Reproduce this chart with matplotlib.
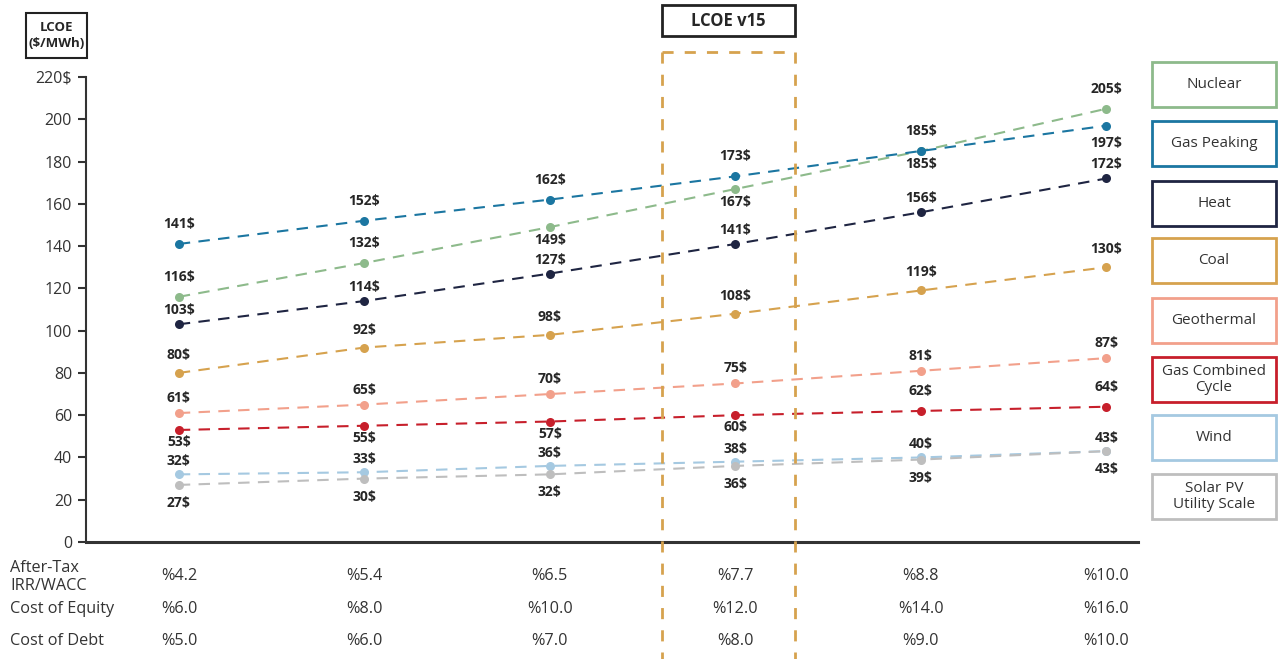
import matplotlib
matplotlib.use("Agg")
import matplotlib.pyplot as plt
from matplotlib.patches import Rectangle
from matplotlib.lines import Line2D

plt.rcParams['font.family'] = ['Open Sans', 'DejaVu Sans']
BOLD = dict(fontweight="bold", fontstretch="normal",
            family=['Open Sans', 'DejaVu Sans'])

# LCOE ($/MWh) per technology across the six financing scenarios
series_names = ["Nuclear", "Gas Peaking", "Heat", "Coal", "Geothermal",
                "Gas Combined\nCycle", "Wind", "Solar PV\nUtility Scale"]
nuclear = [116, 132, 149, 167, 185, 205]
gas_peaking = [141, 152, 162, 173, 185, 197]
heat = [103, 114, 127, 141, 156, 172]
coal = [80, 92, 98, 108, 119, 130]
geothermal = [61, 65, 70, 75, 81, 87]
gas_combined = [53, 55, 57, 60, 62, 64]
wind = [32, 33, 36, 38, 40, 43]
solar = [27, 30, 32, 36, 39, 43]

irr_wacc = ["%4.2", "%5.4", "%6.5", "%7.7", "%8.8", "%10.0"]
cost_equity = ["%6.0", "%8.0", "%10.0", "%12.0", "%14.0", "%16.0"]
cost_debt = ["%5.0", "%6.0", "%7.0", "%8.0", "%9.0", "%10.0"]
row_labels = ["After-Tax\nIRR/WACC", "Cost of Equity", "Cost of Debt"]

y_ticks = [0, 20, 40, 60, 80, 100, 120, 140, 160, 180, 200, 220]

colors = ["#8DBA8B", "#1B76A1", "#1F2542", "#D6A24E", "#F2A08B",
          "#C71F2B", "#A5C9E1", "#BEBEBE"]
values = [nuclear, gas_peaking, heat, coal, geothermal, gas_combined, wind, solar]

# label side per point: +1 above, -1 below; and offset (pixels)
sides = [
    [1, 1, -1, -1, -1, 1],
    [1, 1, 1, 1, 1, -1],
    [1, 1, 1, 1, 1, 1],
    [1, 1, 1, 1, 1, 1],
    [1, 1, 1, 1, 1, 1],
    [-1, -1, -1, -1, 1, 1],
    [1, 1, 1, 1, 1, 1],
    [-1, -1, -1, -1, -1, -1],
]
gap_up = [20, 20, 14, 18, 15, 20, 13, 13]
gap_dn = [13, 17, 13, 13, 13, 12, 13, 18]

W, H = 1280, 659
fig = plt.figure(figsize=(W / 100, H / 100), dpi=100)
fig.patch.set_facecolor("white")


def fx(px):
    return px / W


def fy(py):
    return 1 - py / H


ax = fig.add_axes([fx(86), fy(542), fx(1138) - fx(86), fy(77) - fy(542)])
ax.set_xlim(-0.5, 5.17)
ax.set_ylim(0, 220)
x = list(range(6))

text_col = "#262626"
for vals, col, sd, gu, gd in zip(values, colors, sides, gap_up, gap_dn):
    ax.plot(x, vals, color=col, lw=1.5, ls=(0, (5.5, 4)), marker="o",
            markersize=6.5, markeredgewidth=0, zorder=3)
    for xi, v, s in zip(x, vals, sd):
        off = gu if s > 0 else -gd
        ax.annotate(f"{v}$", (xi, v), xytext=(0, off * 0.72),
                    textcoords="offset points", ha="center", va="center",
                    fontsize=10, color=text_col, zorder=4, **BOLD)

ax.set_yticks(y_ticks)
ax.set_yticklabels([str(t) if t != 220 else "220$" for t in y_ticks],
                   fontsize=11.5, color="#333333")
ax.set_xticks([])
for side in ["top", "right"]:
    ax.spines[side].set_visible(False)
ax.spines["left"].set_color("#333333")
ax.spines["left"].set_linewidth(1.5)
ax.spines["bottom"].set_color("#333333")
ax.spines["bottom"].set_linewidth(2.2)
ax.tick_params(axis="y", length=6, width=1.5, color="#333333", pad=4)

# bottom table of financing assumptions
xpix = [179 + i * 185.4 for i in range(6)]
row_y = [576, 609, 641]
tfs = 11.7
for row, ry in zip([irr_wacc, cost_equity, cost_debt], row_y):
    for xp, t in zip(xpix, row):
        fig.text(fx(xp), fy(ry), t, ha="center", va="center",
                 fontsize=tfs, color="#333333")
fig.text(fx(10), fy(577), row_labels[0], ha="left", va="center",
         fontsize=tfs, color="#333333", linespacing=1.15)
fig.text(fx(10), fy(609), row_labels[1], ha="left", va="center",
         fontsize=tfs, color="#333333")
fig.text(fx(10), fy(641), row_labels[2], ha="left", va="center",
         fontsize=tfs, color="#333333")

# y-axis title box
fig.patches.append(Rectangle((fx(26), fy(58)), fx(87) - fx(26), fy(13) - fy(58),
                             transform=fig.transFigure, fill=False,
                             edgecolor="#222222", lw=1.5))
fig.text(fx(56.5), fy(35.5), "LCOE\n($/MWh)", ha="center", va="center",
         fontsize=9.5, color=text_col, linespacing=1.3, **BOLD)

# highlighted scenario column
hl = "#D6A24E"
for xs in [662, 795]:
    fig.add_artist(Line2D([fx(xs), fx(xs)], [fy(52), fy(659)],
                          transform=fig.transFigure, color=hl, lw=2,
                          ls=(0, (4, 4))))
fig.add_artist(Line2D([fx(662), fx(795)], [fy(52), fy(52)],
                      transform=fig.transFigure, color=hl, lw=2,
                      ls=(0, (4, 4))))
fig.patches.append(Rectangle((fx(662), fy(36)), fx(795) - fx(662), fy(5) - fy(36),
                             transform=fig.transFigure, fill=False,
                             edgecolor="#222222", lw=2))
fig.text(fx(728.5), fy(20.5), "LCOE v15", ha="center", va="center",
         fontsize=12, color=text_col, **BOLD)

# legend boxes
box_top = [62, 121, 181, 238, 298, 357, 415, 474]
for name, col, top in zip(series_names, colors, box_top):
    fig.patches.append(Rectangle((fx(1152), fy(top + 45)), fx(1276) - fx(1152),
                                 fy(top) - fy(top + 45),
                                 transform=fig.transFigure, fill=False,
                                 edgecolor=col, lw=2))
    fig.text(fx(1214), fy(top + 22.5), name, ha="center", va="center",
             fontsize=11, color="#333333", linespacing=1.1)

fig.savefig("out.png", dpi=100, facecolor="white")
